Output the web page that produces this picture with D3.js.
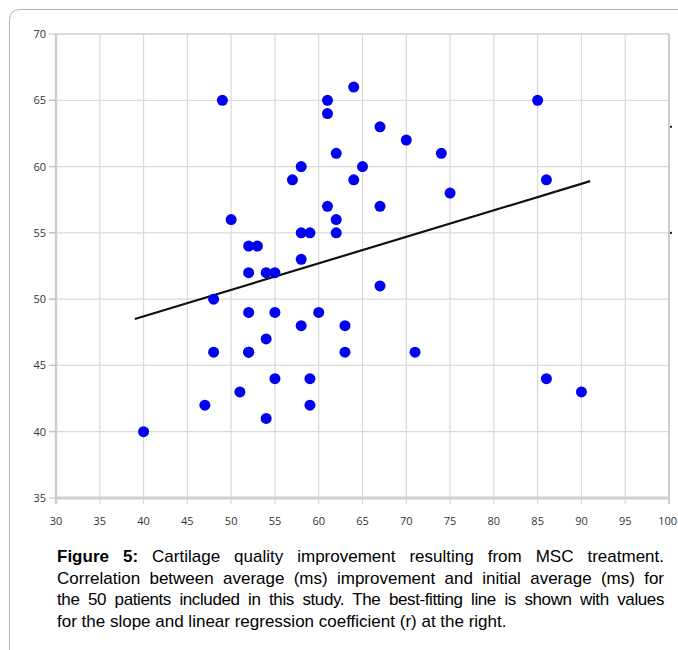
<!DOCTYPE html>
<html>
<head>
<meta charset="utf-8">
<script src="https://cdn.jsdelivr.net/npm/d3@7"></script>
<style>
  body { margin: 0; background: #fff; }
  #wrap { position: relative; width: 678px; height: 650px; overflow: hidden; }
  #caption { position: absolute; left: 57px; top: 546px; width: 607px;
             font-family: "Liberation Sans", Arial, sans-serif; font-size: 17px; color: #000; }
  #caption div { height: 21.7px; line-height: 21.7px; white-space: nowrap; }
  #caption .j { text-align: justify; text-align-last: justify; }
</style>
</head>
<body>
<div id="wrap">
  <div id="chart"></div>
  <div id="caption"></div>
</div>
<script>
// initial average (ms) vs improvement (ms), one entry per patient
const initialAvg = [40, 47, 48, 48, 49, 50, 51, 52, 53, 52, 52, 52, 52, 54, 55, 54, 55, 55, 54,
  57, 58, 58, 59, 58, 58, 60, 59, 59, 61, 61, 62, 61, 62, 62, 63, 63, 64, 64, 65,
  67, 67, 67, 70, 71, 74, 75, 85, 86, 86, 90];
const improvement = [40, 42, 50, 46, 65, 56, 43, 54, 54, 52, 49, 46, 46, 52, 52, 47, 49, 44, 41,
  59, 60, 55, 55, 53, 48, 49, 44, 42, 65, 64, 61, 57, 56, 55, 48, 46, 66, 59, 60,
  63, 57, 51, 62, 46, 61, 58, 65, 59, 44, 43];

// best-fitting line end points
const fitX = [39, 91];
const fitY = [48.5, 58.9];

const xTicks = [30, 35, 40, 45, 50, 55, 60, 65, 70, 75, 80, 85, 90, 95, 100];
const yTicks = [35, 40, 45, 50, 55, 60, 65, 70];
const rightMarks = [63, 55]; // clipped label stubs at the right edge

const captionLines = [
  ["<b>Figure 5:</b> Cartilage quality improvement resulting from MSC treatment.", true],
  ["Correlation between average (ms) improvement and initial average (ms) for", true],
  ["the 50 patients included in this study. The best-fitting line is shown with values", true],
  ["for the slope and linear regression coefficient (r) at the right.", false]
];

const W = 678, H = 650;
const margin = { left: 56, right: 9, top: 34, bottom: 152 };

const svg = d3.select("#chart").append("svg")
    .attr("width", W)
    .attr("height", H);

// panel frame with rounded top-left corner
svg.append("path")
    .attr("d", `M9.5,${H} L9.5,20 Q9.5,9.5 20,9.5 L${W},9.5`)
    .attr("fill", "none")
    .attr("stroke", "#b5b5b5")
    .attr("stroke-width", 1);

const x = d3.scaleLinear().domain([30, 100]).range([margin.left, W - margin.right]);
const y = d3.scaleLinear().domain([35, 70]).range([H - margin.bottom, margin.top]);

const g = svg.append("g");

// grid
g.selectAll(".vgrid").data(xTicks.slice(1, -1)).join("line")
    .attr("x1", d => x(d)).attr("x2", d => x(d))
    .attr("y1", y(70)).attr("y2", y(35) + 6)
    .attr("stroke", "#d9d9d9").attr("stroke-width", 1.2);
g.selectAll(".hgrid").data(yTicks.slice(1, -1)).join("line")
    .attr("x1", x(30) - 7).attr("x2", x(100))
    .attr("y1", d => y(d)).attr("y2", d => y(d))
    .attr("stroke", "#d9d9d9").attr("stroke-width", 1.2);

// frame: top and right thin, left and bottom thicker
g.append("line").attr("x1", x(30)).attr("x2", x(100)).attr("y1", y(70)).attr("y2", y(70))
    .attr("stroke", "#cfcfcf").attr("stroke-width", 1.5);
g.append("line").attr("x1", x(100)).attr("x2", x(100)).attr("y1", y(70)).attr("y2", y(35) + 6)
    .attr("stroke", "#bdbdbd").attr("stroke-width", 1.5);
g.append("line").attr("x1", x(30)).attr("x2", x(30)).attr("y1", y(70)).attr("y2", y(35) + 6)
    .attr("stroke", "#cdcdcd").attr("stroke-width", 2.5);
g.append("line").attr("x1", x(30)).attr("x2", x(100)).attr("y1", y(35)).attr("y2", y(35))
    .attr("stroke", "#d0d0d0").attr("stroke-width", 3);

// y ticks and labels
g.selectAll(".ytick").data(yTicks).join("line")
    .attr("x1", x(30) - 7).attr("x2", x(30))
    .attr("y1", d => y(d)).attr("y2", d => y(d))
    .attr("stroke", "#bbb").attr("stroke-width", 1);
g.selectAll(".ylab").data(yTicks).join("text")
    .attr("x", x(30) - 10).attr("y", d => y(d) + 4)
    .attr("text-anchor", "end")
    .attr("font-family", "Open Sans, sans-serif").attr("font-size", 11)
    .attr("fill", "#333")
    .text(d => d);

// x labels (last one pulled in so it stays inside the page)
g.selectAll(".xlab").data(xTicks).join("text")
    .attr("x", d => x(d)).attr("y", y(35) + 27)
    .attr("text-anchor", d => d === 100 ? "end" : "middle")
    .attr("dx", d => d === 100 ? 8 : 0)
    .attr("font-family", "Open Sans, sans-serif").attr("font-size", 11)
    .attr("fill", "#333")
    .text(d => d);

// regression line
const line = d3.line().x(d => x(d[0])).y(d => y(d[1]));
g.append("path")
    .attr("d", line(d3.zip(fitX, fitY)))
    .attr("fill", "none")
    .attr("stroke", "#111")
    .attr("stroke-width", 2.2);

// points
g.selectAll(".dot").data(d3.zip(initialAvg, improvement)).join("circle")
    .attr("cx", d => x(d[0]))
    .attr("cy", d => y(d[1]))
    .attr("r", 5.5)
    .attr("fill", "#0000f2");

// tiny stubs at the right edge
g.selectAll(".stub").data(rightMarks).join("rect")
    .attr("x", x(100) + 1).attr("y", d => y(d) - 1)
    .attr("width", 2).attr("height", 2)
    .attr("fill", "#222");

// caption
d3.select("#caption").selectAll("div").data(captionLines).join("div")
    .attr("class", d => d[1] ? "j" : null)
    .style("letter-spacing", (d, i) => i === 2 ? "-0.4px" : null)
    .html(d => d[0]);
</script>
</body>
</html>
